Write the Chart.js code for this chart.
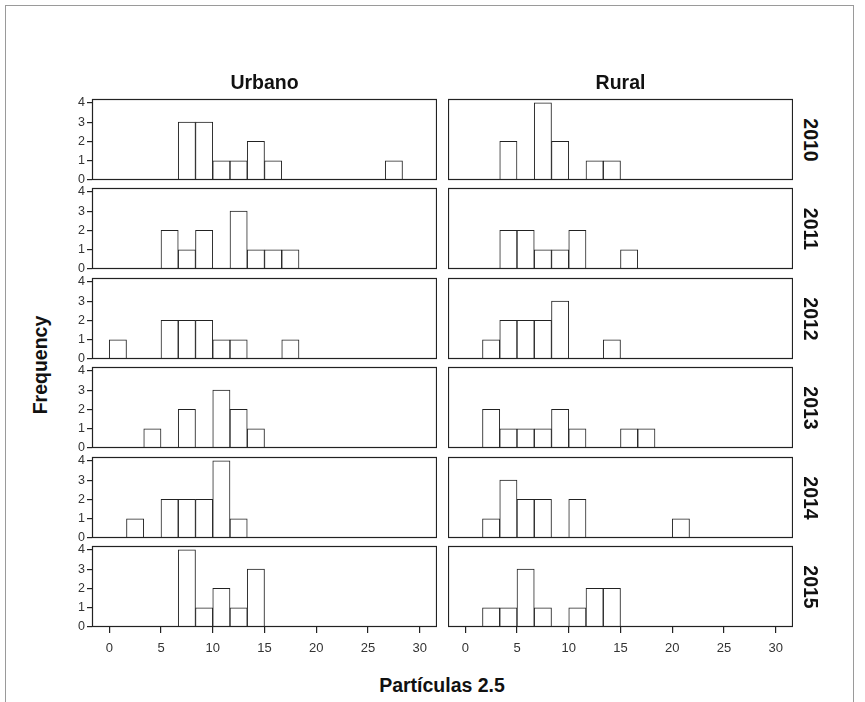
<!DOCTYPE html>
<html>
<head>
<meta charset="utf-8">
<title>Partículas 2.5</title>
<script src="https://cdn.jsdelivr.net/npm/chart.js@4/dist/chart.umd.min.js"></script>
<style>
  body { margin: 0; background: #fff; width: 865px; height: 702px; overflow: hidden; position: relative;
         font-family: "Liberation Sans", Arial, sans-serif; }
  #border { position: absolute; left: 5px; top: 5px; width: 847px; height: 720px; border: 1px solid #9a9a9a; }
  canvas { position: absolute; }
  .lbl { position: absolute; font-weight: bold; font-size: 19.5px; color: #111; white-space: nowrap; }
</style>
</head>
<body>
<div id="border"></div>
<script>
const areas = ['Urbano', 'Rural'];
const years = ['2010', '2011', '2012', '2013', '2014', '2015'];

// lower edge of each histogram bin (width 5/3)
const binWidth = 5 / 3;
const binEdges = [0, 5/3, 10/3, 5, 20/3, 25/3, 10, 35/3, 40/3, 15, 50/3, 55/3, 20, 65/3, 70/3, 25, 80/3, 85/3, 30];
const xTicks = [0, 5, 10, 15, 20, 25, 30];
const yTicks = [0, 1, 2, 3, 4];

// frequencies per bin
const urbano2010 = [0, 0, 0, 0, 3, 3, 1, 1, 2, 1, 0, 0, 0, 0, 0, 0, 1, 0, 0];
const urbano2011 = [0, 0, 0, 2, 1, 2, 0, 3, 1, 1, 1, 0, 0, 0, 0, 0, 0, 0, 0];
const urbano2012 = [1, 0, 0, 2, 2, 2, 1, 1, 0, 0, 1, 0, 0, 0, 0, 0, 0, 0, 0];
const urbano2013 = [0, 0, 1, 0, 2, 0, 3, 2, 1, 0, 0, 0, 0, 0, 0, 0, 0, 0, 0];
const urbano2014 = [0, 1, 0, 2, 2, 2, 4, 1, 0, 0, 0, 0, 0, 0, 0, 0, 0, 0, 0];
const urbano2015 = [0, 0, 0, 0, 4, 1, 2, 1, 3, 0, 0, 0, 0, 0, 0, 0, 0, 0, 0];

const rural2010 = [0, 0, 2, 0, 4, 2, 0, 1, 1, 0, 0, 0, 0, 0, 0, 0, 0, 0, 0];
const rural2011 = [0, 0, 2, 2, 1, 1, 2, 0, 0, 1, 0, 0, 0, 0, 0, 0, 0, 0, 0];
const rural2012 = [0, 1, 2, 2, 2, 3, 0, 0, 1, 0, 0, 0, 0, 0, 0, 0, 0, 0, 0];
const rural2013 = [0, 2, 1, 1, 1, 2, 1, 0, 0, 1, 1, 0, 0, 0, 0, 0, 0, 0, 0];
const rural2014 = [0, 1, 3, 2, 2, 0, 2, 0, 0, 0, 0, 0, 1, 0, 0, 0, 0, 0, 0];
const rural2015 = [0, 1, 1, 3, 1, 0, 1, 2, 2, 0, 0, 0, 0, 0, 0, 0, 0, 0, 0];

const panels = [
  [urbano2010, urbano2011, urbano2012, urbano2013, urbano2014, urbano2015],
  [rural2010, rural2011, rural2012, rural2013, rural2014, rural2015]
];

// panel geometry
const colLeft = [92, 448];
const panelW = 345;
const panelH = 81;
const rowTop = r => Math.round(99 + r * 89.4);
const axisW = 30;
const axisH = 38;
const vPad = 9;   // room above/below a panel for the 0 and 4 labels
const ink = '#222';
const FONT = '"Liberation Sans", Arial, sans-serif';

// box around each panel
const framePlugin = {
  id: 'frame',
  afterDraw(chart) {
    const a = chart.chartArea;
    const c = chart.ctx;
    c.save();
    c.strokeStyle = ink;
    c.lineWidth = 1.2;
    c.strokeRect(a.left + 0.5, a.top + 0.5, a.right - a.left - 1, a.bottom - a.top - 1);
    c.restore();
  }
};

function addLabel(text, x, y, rotate) {
  const d = document.createElement('div');
  d.className = 'lbl';
  d.textContent = text;
  d.style.left = x + 'px';
  d.style.top = y + 'px';
  d.style.transform = 'translate(-50%, -50%)' + (rotate ? ' rotate(' + rotate + 'deg)' : '');
  document.body.appendChild(d);
}

function histogram(col, row) {
  const counts = panels[col][row];
  const showY = col === 0;
  const showX = row === years.length - 1;
  const padBottom = showX ? 0 : vPad;
  const cv = document.createElement('canvas');
  const w = panelW + (showY ? axisW : 0);
  const h = panelH + vPad + (showX ? axisH : padBottom);
  cv.width = w;
  cv.height = h;
  cv.style.width = w + 'px';
  cv.style.height = h + 'px';
  cv.style.left = (colLeft[col] - (showY ? axisW : 0)) + 'px';
  cv.style.top = (rowTop(row) - vPad) + 'px';
  document.body.appendChild(cv);

  new Chart(cv, {
    type: 'bar',
    data: {
      datasets: [{
        data: counts.map((v, i) => ({ x: binEdges[i] + binWidth / 2, y: v })),
        backgroundColor: '#fff',
        borderColor: ink,
        borderWidth: 1,
        barPercentage: 1,
        categoryPercentage: 1
      }]
    },
    options: {
      responsive: false,
      animation: false,
      events: [],
      layout: { padding: { top: vPad, bottom: padBottom, left: 0, right: 0 } },
      plugins: { legend: { display: false }, tooltip: { enabled: false } },
      scales: {
        x: {
          type: 'linear',
          min: -5 / 3,
          max: 95 / 3,
          offset: false,
          display: showX,
          afterFit: s => { if (showX) s.height = axisH; s.paddingLeft = 0; s.paddingRight = 0; },
          afterBuildTicks: s => { s.ticks = xTicks.map(v => ({ value: v })); },
          grid: { offset: false, drawOnChartArea: false, drawTicks: true, tickLength: 6, color: ink, lineWidth: 1.2 },
          border: { display: false },
          ticks: { padding: 8, color: '#333', maxRotation: 0, font: { size: 13, family: FONT } }
        },
        y: {
          min: 0,
          max: 4.2,
          display: showY,
          afterFit: s => { if (showY) s.width = axisW; s.paddingTop = 0; s.paddingBottom = 0; },
          afterBuildTicks: s => { s.ticks = yTicks.map(v => ({ value: v })); },
          grid: { drawOnChartArea: false, drawTicks: true, tickLength: 5, color: ink, lineWidth: 1.2 },
          border: { display: false },
          ticks: { padding: 2, color: '#333', font: { size: 12.5, family: FONT } }
        }
      }
    },
    plugins: [framePlugin]
  });
}

for (let c = 0; c < areas.length; c++) {
  for (let r = 0; r < years.length; r++) histogram(c, r);
  addLabel(areas[c], colLeft[c] + panelW / 2, 82);
}
years.forEach((y, r) => addLabel(y, 810, rowTop(r) + panelH / 2, 90));
addLabel('Frequency', 40, 365, -90);
addLabel('Partículas 2.5', 442, 685);
</script>
</body>
</html>
